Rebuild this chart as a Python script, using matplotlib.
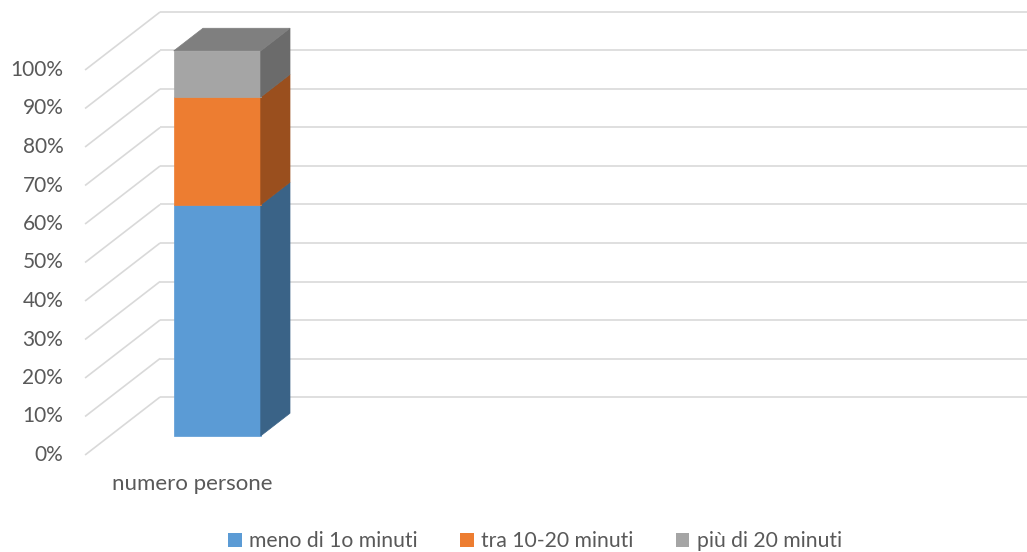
import matplotlib
matplotlib.use("Agg")
import matplotlib.pyplot as plt
from matplotlib.patches import Polygon, Patch

# ---- data ----
categories = ["numero persone"]
series_names = ["meno di 1o minuti", "tra 10-20 minuti", "più di 20 minuti"]
series_values = [[60], [28], [12]]          # percent of total
tick_values = [0, 10, 20, 30, 40, 50, 60, 70, 80, 90, 100]
tick_labels = ["0%", "10%", "20%", "30%", "40%", "50%", "60%", "70%", "80%", "90%", "100%"]

# ---- styles ----
front_colors = ["#5B9BD5", "#ED7D31", "#A5A5A5"]
side_colors = ["#3A6387", "#9A4F1E", "#6B6B6B"]
top_colors = ["#4A7DAB", "#BE6427", "#7F7F7F"]
grid_color = "#D9D9D9"
text_color = "#595959"
plt.rcParams["font.family"] = ["Lato", "DejaVu Sans"]

W, H, DPI = 1027, 552, 100
fig = plt.figure(figsize=(W / DPI, H / DPI), dpi=DPI)
ax = fig.add_axes([0, 0, 1, 1])
ax.set_axis_off()

# axis scales: x in category units, y in percent
px_per_cat = 145.0
cat0_px = 192.5
px_per_pct = 3.85
zero_px = 455.0
ax.set_xlim(-cat0_px / px_per_cat, (W - cat0_px) / px_per_cat)
ax.set_ylim((zero_px - H) / px_per_pct, zero_px / px_per_pct)

# oblique depth offset (full depth)
depth_dx = 75 / px_per_cat
depth_dy = 58 / px_per_pct
wall_x = -0.741          # left edge of the floor/wall in category units
bar_width = 0.6
bar_d0, bar_d1 = 0.33, 0.72


def proj(x, v, d):
    return (x + d * depth_dx, v + d * depth_dy)


# wall gridlines
x_right = ax.get_xlim()[1]
for v in tick_values:
    p0 = proj(wall_x, v, 0)
    p1 = proj(wall_x, v, 1)
    ax.plot([p0[0], p1[0]], [p0[1], p1[1]], color=grid_color, lw=1.2,
            solid_capstyle="butt", zorder=1)
    ax.plot([p1[0], x_right + 1], [p1[1], p1[1]], color=grid_color, lw=1.2,
            solid_capstyle="butt", zorder=1)

# tick labels
for v, lab in zip(tick_values, tick_labels):
    ax.text(proj(wall_x, v, 0)[0] - 0.15, v, lab, ha="right", va="center",
            fontsize=15, color=text_color)

# stacked 3D bars
for ci, cat in enumerate(categories):
    x0 = ci - bar_width / 2
    x1 = ci + bar_width / 2
    bottom = 0.0
    n = len(series_values)
    for si, vals in enumerate(series_values):
        top = bottom + vals[ci]
        front = [proj(x0, bottom, bar_d0), proj(x1, bottom, bar_d0),
                 proj(x1, top, bar_d0), proj(x0, top, bar_d0)]
        side = [proj(x1, bottom, bar_d0), proj(x1, bottom, bar_d1),
                proj(x1, top, bar_d1), proj(x1, top, bar_d0)]
        ax.add_patch(Polygon(front, closed=True, facecolor=front_colors[si],
                             edgecolor=front_colors[si], lw=0.5, zorder=3))
        ax.add_patch(Polygon(side, closed=True, facecolor=side_colors[si],
                             edgecolor=side_colors[si], lw=0.5, zorder=3))
        if si == n - 1:
            topf = [proj(x0, top, bar_d0), proj(x1, top, bar_d0),
                    proj(x1, top, bar_d1), proj(x0, top, bar_d1)]
            ax.add_patch(Polygon(topf, closed=True, facecolor=top_colors[si],
                                 edgecolor=top_colors[si], lw=0.5, zorder=3))
        bottom = top
    ax.text(ci, -7.5, cat, ha="center", va="center", fontsize=16, color=text_color)

# legend
handles = [Patch(facecolor=c, edgecolor="none") for c in front_colors]
fig.legend(handles, series_names, loc="center", ncol=3,
           bbox_to_anchor=(535 / W, 1 - 541 / H), frameon=False,
           fontsize=15.2, labelcolor=text_color, handlelength=0.65,
           handleheight=0.65, handletextpad=0.35, columnspacing=2.0)

fig.savefig("out.png", dpi=DPI)
